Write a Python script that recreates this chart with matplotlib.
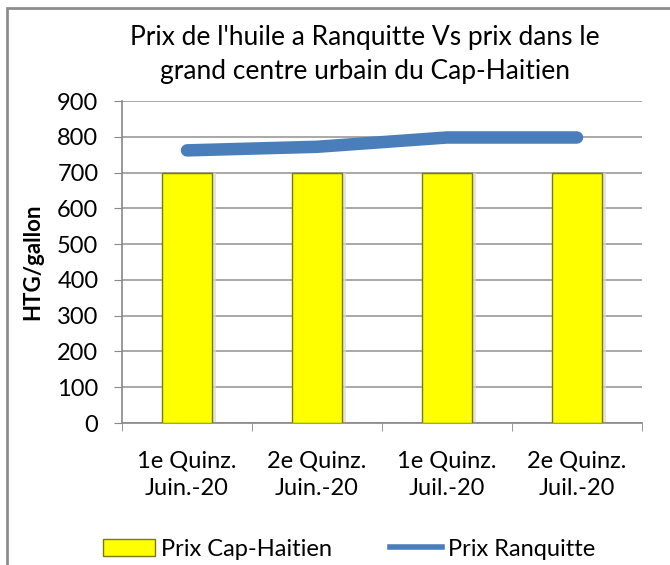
import matplotlib.pyplot as plt
import matplotlib.patches as mpatches
from matplotlib.lines import Line2D
import numpy as np

categories = ["1e Quinz.\nJuin.-20", "2e Quinz.\nJuin.-20", "1e Quinz.\nJuil.-20", "2e Quinz.\nJuil.-20"]
prix_cap_haitien = [700, 700, 700, 700]
prix_ranquitte = [762, 772, 798, 798]
yticks = [0, 100, 200, 300, 400, 500, 600, 700, 800, 900]

plt.rcParams['font.family'] = ['Lato', 'DejaVu Sans']

fig = plt.figure(figsize=(6.7, 5.65), dpi=100)
ax = fig.add_axes([122/670, 1-423/565, (642-122)/670, (423-101)/565])

x = np.arange(len(categories))
w = 0.39
# shadow
ax.bar(x + 0.03, prix_cap_haitien, width=w, color='#d8d8d8', zorder=2, alpha=0.7)
ax.bar(x, prix_cap_haitien, width=w, color='#ffff00', edgecolor='#7a7a10', linewidth=1.0, zorder=3)
ax.plot(x, prix_ranquitte, color='#4a7ebb', linewidth=9, solid_capstyle='round', zorder=4)

ax.set_xlim(-0.5, len(categories) - 0.5)
ax.set_ylim(0, 900)
ax.set_yticks(yticks)
ax.set_yticklabels([str(t) for t in yticks], fontsize=17)
ax.set_xticks(x)
ax.set_xticklabels(categories, fontsize=17, linespacing=1.35)
ax.set_xticks(np.arange(len(categories) + 1) - 0.5, minor=True)
ax.tick_params(axis='x', which='major', length=0, pad=20)
ax.tick_params(axis='x', which='minor', length=6, color='#888888')
ax.tick_params(axis='y', length=6, color='#888888', pad=11)
ax.yaxis.grid(True, color='#999999', linewidth=1.2, zorder=0)
ax.set_axisbelow(True)
for s in ['top', 'right']:
    ax.spines[s].set_visible(False)
ax.spines['left'].set_color('#888888')
ax.spines['bottom'].set_color('#888888')
ax.spines['left'].set_linewidth(1.2)
ax.spines['bottom'].set_linewidth(1.2)

ax.set_ylabel("HTG/gallon", fontsize=16, fontweight='bold', labelpad=10)

fig.text(365/670, 1 - 38/565, "Prix de l'huile a Ranquitte Vs prix dans le", ha='center', va='center', fontsize=19)
fig.text(365/670, 1 - 72/565, "grand centre urbain du Cap-Haitien", ha='center', va='center', fontsize=19)

handles = [mpatches.Patch(facecolor='#ffff00', edgecolor='#7a7a10'),
           Line2D([0], [0], color='#4a7ebb', linewidth=4)]
fig.legend(handles, ["Prix Cap-Haitien", "Prix Ranquitte"], loc='center', bbox_to_anchor=(349/670, 1 - 549/565),
           ncol=2, frameon=False, fontsize=17, handlelength=2.2, handletextpad=0.25, columnspacing=2.45)

border = mpatches.Rectangle((7/670, -0.1), 1.2, 1.1 - 8/565, transform=fig.transFigure,
                            fill=False, edgecolor='#8c8c8c', linewidth=2)
fig.add_artist(border)

fig.savefig("out.png", dpi=100)
